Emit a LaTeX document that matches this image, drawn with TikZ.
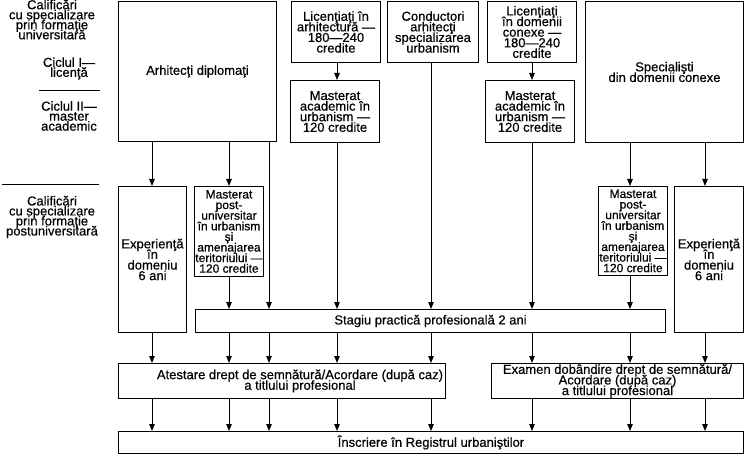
\documentclass[tikz,border=0pt]{standalone}
\usepackage{fontspec}
\setmainfont{Liberation Sans}[FakeBold=0.5]
\usetikzlibrary{arrows.meta}
\newcommand\lbltxt{\fontsize{13}{10.6}\selectfont\lineskiplimit=-20pt\relax}
\newcommand\narrowtxt{\fontsize{12}{10.6}\selectfont\lineskiplimit=-20pt\relax}
\newcommand\sidetxt{\fontsize{13}{10}\selectfont\lineskiplimit=-20pt\relax}
\begin{document}
\begin{tikzpicture}[x=1pt,y=-1pt,
  box/.style={draw,line width=1pt,inner sep=0pt,align=center,anchor=north west,font=\lbltxt},
  narrow/.style={box,font=\narrowtxt},
  side/.style={inner sep=0pt,align=center,font=\sidetxt},
  boxtext/.style={inner sep=0pt,align=center,font=\lbltxt},
  arr/.style={line width=1pt,-{Triangle[length=7pt,width=5.5pt]}},
  rule/.style={line width=1pt}]
\useasboundingbox (0,0) rectangle (749,457);
% top row
\node[box,minimum width=158pt,minimum height=140pt] (A) at (118,1) {Arhitecţi diplomaţi};
\node[box,minimum width=89pt,minimum height=61pt] (L1) at (291,1) {Licenţiaţi în\\arhitectură —\\180—240\\credite};
\node[box,minimum width=89pt,minimum height=62pt] (M1) at (290,80) {Masterat\\academic în\\urbanism —\\120 credite};
\node[box,minimum width=91pt,minimum height=61pt] (C) at (387,1) {Conductori\\arhitecţi\\specializarea\\urbanism};
\node[box,minimum width=89pt,minimum height=61pt] (L2) at (487,1) {Licenţiaţi\\în domenii\\conexe —\\180—240\\credite};
\node[box,minimum width=89pt,minimum height=62pt] (M2) at (485,80) {Masterat\\academic în\\urbanism —\\120 credite};
\node[box,minimum width=158pt,minimum height=141pt] (S) at (585,1) {Specialişti\\din domenii conexe};
% middle row
\node[box,minimum width=68pt,minimum height=146pt] (E1) at (118,186) {Experienţă\\în\\domeniu\\6 ani};
\node[narrow,minimum width=69pt,minimum height=90pt] (P1) at (194,186) {Masterat\\post-\\universitar\\în urbanism\\şi\\amenajarea\\teritoriului —\\120 credite};
\node[narrow,minimum width=69pt,minimum height=89pt] (P2) at (598,186) {Masterat\\post-\\universitar\\în urbanism\\şi\\amenajarea\\teritoriului —\\120 credite};
\node[box,minimum width=69pt,minimum height=146pt] (E2) at (674,186) {Experienţă\\în\\domeniu\\6 ani};
\node[box,minimum width=470pt,minimum height=23pt] (ST) at (195,309) {Stagiu practică profesională 2 ani};
% bottom
\node[box,minimum width=327pt,minimum height=35pt] (AT) at (118,363) {};
\node[boxtext] (ATt) at ([xshift=18pt]AT.center) {Atestare drept de semnătură/Acordare (după caz)\\a titlului profesional};
\node[box,minimum width=252pt,minimum height=35pt] (EX) at (491,363) {Examen dobândire drept de semnătură/\\Acordare (după caz)\\a titlului profesional};
\node[box,minimum width=625pt,minimum height=22pt] (IN) at (118,431) {Înscriere în Registrul urbaniştilor};
% side labels
\node[side] (s1) at (52,19.5) {Calificări\\cu specializare\\prin formaţie\\universitară};
\node[side] (s2) at (69,68.5) {Ciclul I—\\licenţă};
\node[side] (s3) at (69,116) {Ciclul II—\\master\\academic};
\node[side] (s4) at (52,217) {Calificări\\cu specializare\\prin formaţie\\postuniversitară};
\coordinate (r1a) at (39,91); \coordinate (r1b) at (100,91);
\coordinate (r2a) at (2,185); \coordinate (r2b) at (99,185);
\draw[rule] (r1a) -- (r1b);
\draw[rule] (r2a) -- (r2b);
% x positions
\foreach \n/\x in {a/152,b/229,c/269,d/337,e/431,f/532,g/630,h/705}
  \coordinate (x\n) at (\x,0);
% connectors
\draw[arr] (L1.south -| xd) -- (M1.north -| xd);
\draw[arr] (L2.south -| xf) -- (M2.north -| xf);
\draw[arr] (A.south -| xa) -- (E1.north -| xa);
\draw[arr] (A.south -| xb) -- (P1.north -| xb);
\draw[arr] (A.south -| xc) -- (ST.north -| xc);
\draw[arr] (M1.south -| xd) -- (ST.north -| xd);
\draw[arr] (C.south -| xe) -- (ST.north -| xe);
\draw[arr] (M2.south -| xf) -- (ST.north -| xf);
\draw[arr] (S.south -| xg) -- (P2.north -| xg);
\draw[arr] (S.south -| xh) -- (E2.north -| xh);
\draw[arr] (P1.south -| xb) -- (ST.north -| xb);
\draw[arr] (P2.south -| xg) -- (ST.north -| xg);
\draw[arr] (E1.south -| xa) -- (AT.north -| xa);
\foreach \n in {b,c,d,e} \draw[arr] (ST.south -| x\n) -- (AT.north -| x\n);
\foreach \n in {f,g} \draw[arr] (ST.south -| x\n) -- (EX.north -| x\n);
\draw[arr] (E2.south -| xh) -- (EX.north -| xh);
\foreach \n in {a,b,c,d,e} \draw[arr] (AT.south -| x\n) -- (IN.north -| x\n);
\foreach \n in {f,g,h} \draw[arr] (EX.south -| x\n) -- (IN.north -| x\n);
\end{tikzpicture}
\end{document}
